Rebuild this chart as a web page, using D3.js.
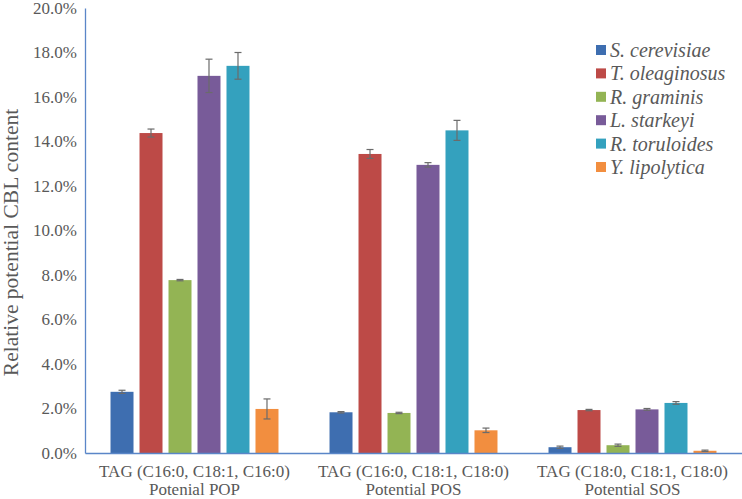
<!DOCTYPE html>
<html>
<head>
<meta charset="utf-8">
<script src="https://cdn.jsdelivr.net/npm/d3@7"></script>
<style>
  body { margin: 0; background: #fff; }
  svg text { font-family: "Liberation Serif", "DejaVu Serif", serif; fill: #595959; }
</style>
</head>
<body>
<svg id="chart" width="742" height="499"></svg>
<script>
// groups along x (two-line labels)
var groups = [ "POP", "POS", "SOS" ];
var groupLine1 = [ "TAG (C16:0, C18:1, C16:0)", "TAG (C16:0, C18:1, C18:0)", "TAG (C18:0, C18:1, C18:0)" ];
var groupLine2 = [ "Potenial POP", "Potential POS", "Potential SOS" ];

var species = [ "S. cerevisiae", "T. oleaginosus", "R. graminis", "L. starkeyi", "R. toruloides", "Y. lipolytica" ];
var colors = [ "#3e6eb0", "#bd4a47", "#93b454", "#785b99", "#34a1be", "#f28e3f" ];

// values in %, one array per species (POP, POS, SOS)
var cerevisiae = [ 2.75, 1.83, 0.26 ];
var oleaginosus = [ 14.38, 13.44, 1.93 ];
var graminis = [ 7.77, 1.80, 0.35 ];
var starkeyi = [ 16.95, 12.95, 1.96 ];
var toruloides = [ 17.40, 14.50, 2.25 ];
var lipolytica = [ 1.98, 1.02, 0.10 ];

// error bars (+/-)
var cerevisiaeErr = [ 0.07, 0.03, 0.05 ];
var oleaginosusErr = [ 0.18, 0.2, 0.03 ];
var graminisErr = [ 0.03, 0.03, 0.05 ];
var starkeyiErr = [ 0.75, 0.1, 0.04 ];
var toruloidesErr = [ 0.6, 0.45, 0.06 ];
var lipolyticaErr = [ 0.45, 0.1, 0.03 ];

var yTicks = [ 0, 2, 4, 6, 8, 10, 12, 14, 16, 18, 20 ];

var values = [ cerevisiae, oleaginosus, graminis, starkeyi, toruloides, lipolytica ];
var errors = [ cerevisiaeErr, oleaginosusErr, graminisErr, starkeyiErr, toruloidesErr, lipolyticaErr ];

var svg = d3.select( "#chart" );

// plot area (note: "top" is taken by window.top)
var padLeft = 85, padRight = 742, padTop = 8, padBottom = 453;

var x0 = d3.scaleBand()
    .domain( groups )
    .range( [ padLeft, padRight ] );

var x1 = d3.scaleBand()
    .domain( d3.range( species.length ) )
    .range( [ 0, x0.bandwidth() ] )
    .paddingInner( 0.207 )
    .paddingOuter( 0.88 );

var y = d3.scaleLinear()
    .domain( [ 0, 20 ] )
    .range( [ padBottom, padTop ] );

// bars
var rows = [];
groups.forEach( function ( g, gi ) {
    species.forEach( function ( s, si ) {
        rows.push( { g: g, si: si, v: values[ si ][ gi ], e: errors[ si ][ gi ] } );
    } );
} );

svg.append( "g" ).selectAll( "rect" )
    .data( rows )
    .enter()
    .append( "rect" )
    .attr( "x", function ( d ) { return x0( d.g ) + x1( d.si ); } )
    .attr( "y", function ( d ) { return y( d.v ); } )
    .attr( "width", x1.bandwidth() )
    .attr( "height", function ( d ) { return y( 0 ) - y( d.v ); } )
    .attr( "fill", function ( d ) { return colors[ d.si ]; } );

// error bars
var eb = svg.append( "g" )
    .attr( "stroke", "#6b6b6b" )
    .attr( "stroke-width", 1.2 )
    .selectAll( "g" )
    .data( rows )
    .enter()
    .append( "g" );

function cx( d ) { return x0( d.g ) + x1( d.si ) + x1.bandwidth() / 2; }
function hi( d ) { return y( d.v + d.e ); }
function lo( d ) { return y( Math.max( 0, d.v - d.e ) ); }

eb.append( "line" )
    .attr( "x1", cx ).attr( "x2", cx )
    .attr( "y1", hi )
    .attr( "y2", lo );
eb.append( "line" )
    .attr( "x1", function ( d ) { return cx( d ) - 3.5; } )
    .attr( "x2", function ( d ) { return cx( d ) + 3.5; } )
    .attr( "y1", hi ).attr( "y2", hi );
eb.append( "line" )
    .attr( "x1", function ( d ) { return cx( d ) - 3.5; } )
    .attr( "x2", function ( d ) { return cx( d ) + 3.5; } )
    .attr( "y1", lo ).attr( "y2", lo );

// y axis
var yAxis = svg.append( "g" )
    .attr( "transform", "translate(" + padLeft + ",0)" )
    .call( d3.axisLeft( y ).tickValues( yTicks ).tickSize( 0 ).tickPadding( 8 )
        .tickFormat( function ( d ) { return d.toFixed( 1 ) + "%"; } ) );
yAxis.select( ".domain" ).attr( "stroke", "#5a86c8" ).attr( "stroke-width", 1.3 );
yAxis.selectAll( "text" ).attr( "font-size", 17 ).attr( "fill", "#595959" )
    .style( "font-family", "'Liberation Serif', serif" );

// x axis
var xAxis = svg.append( "g" )
    .attr( "transform", "translate(0," + padBottom + ")" )
    .call( d3.axisBottom( x0 ).tickSize( 0 ).tickFormat( "" ) );
xAxis.select( ".domain" ).attr( "stroke", "#5a86c8" ).attr( "stroke-width", 1.3 );

var xl = svg.append( "g" ).selectAll( "text" )
    .data( groups )
    .enter()
    .append( "text" )
    .attr( "text-anchor", "middle" )
    .attr( "font-size", 17 );
xl.append( "tspan" )
    .attr( "x", function ( d ) { return x0( d ) + x0.bandwidth() / 2; } )
    .attr( "y", 477 )
    .text( function ( d, i ) { return groupLine1[ i ]; } );
xl.append( "tspan" )
    .attr( "x", function ( d ) { return x0( d ) + x0.bandwidth() / 2; } )
    .attr( "y", 495 )
    .text( function ( d, i ) { return groupLine2[ i ]; } );

// y title
svg.append( "text" )
    .attr( "transform", "translate(18," + ( ( padTop + padBottom ) / 2 + 12 ) + ") rotate(-90)" )
    .attr( "text-anchor", "middle" )
    .attr( "font-size", 21.5 )
    .text( "Relative potential CBL content" );

// legend
var legend = svg.append( "g" ).selectAll( "g" )
    .data( species )
    .enter()
    .append( "g" )
    .attr( "transform", function ( d, i ) { return "translate(596," + ( 50 + i * 23.4 ) + ")"; } );
legend.append( "rect" )
    .attr( "x", 0 ).attr( "y", -5 )
    .attr( "width", 10 ).attr( "height", 10 )
    .attr( "fill", function ( d, i ) { return colors[ i ]; } );
legend.append( "text" )
    .attr( "x", 14 ).attr( "y", 7 )
    .attr( "font-size", 20 )
    .attr( "font-style", "italic" )
    .text( function ( d ) { return d; } );
</script>
</body>
</html>
